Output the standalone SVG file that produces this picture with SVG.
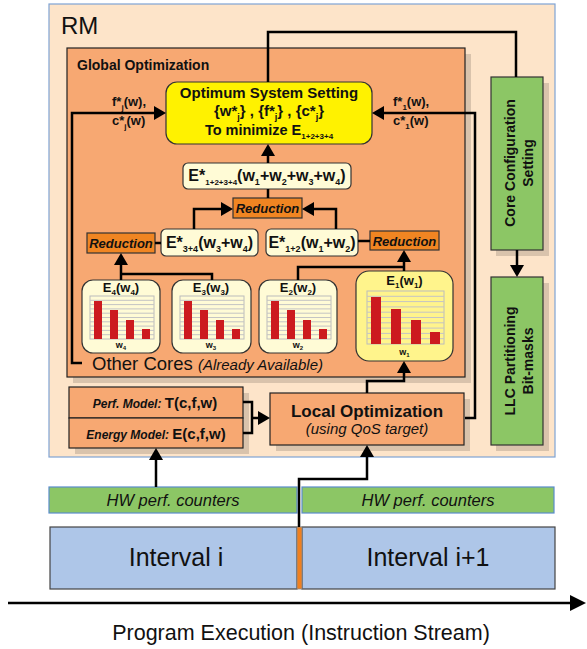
<svg xmlns="http://www.w3.org/2000/svg" width="587" height="649" viewBox="0 0 587 649">
<style>
text{font-family:'Liberation Sans',Arial,sans-serif;fill:#111}
.b{font-weight:bold}
.i{font-style:italic}
.s8{font-size:8px}
.s9{font-size:9px}
.sh{fill:#000;fill-opacity:0.14}
.cream{fill:#fffbd6;stroke:#333;stroke-width:1.2}
.red{fill:#f08522;stroke:#333;stroke-width:1.2}
.grn{fill:#8cc665;stroke:#333;stroke-width:1.2}
.sal{fill:#f7a872;stroke:#222;stroke-width:1.2}
.grid{stroke:#c4c4c4;stroke-width:1}
.bar{fill:#cc1a1f}
.con{fill:none;stroke:#000;stroke-width:2.5}
</style>
<defs>
<marker id="ah" viewBox="0 0 12 14" refX="9" refY="7" markerWidth="12" markerHeight="14" markerUnits="userSpaceOnUse" orient="auto"><path d="M0,0 L12,7 L0,14 z" fill="#000"/></marker>
<marker id="big" viewBox="0 0 16 16" refX="12" refY="8" markerWidth="16" markerHeight="16" markerUnits="userSpaceOnUse" orient="auto"><path d="M0,0 L16,8 L0,16 z" fill="#000"/></marker>
<g id="chart">
<rect x="0" y="0" width="64" height="43" fill="none" stroke="#bcbcbc"/>
<path class="grid" d="M0,4.3H64M0,8.6H64M0,12.9H64M0,17.2H64M0,21.5H64M0,25.8H64M0,30.1H64M0,34.4H64M0,38.7H64"/>
<rect class="bar" x="4" y="5" width="8" height="38"/>
<rect class="bar" x="20" y="14" width="8" height="29"/>
<rect class="bar" x="36" y="24" width="8" height="19"/>
<rect class="bar" x="52" y="33" width="8" height="10"/>
</g>
</defs>

<g id="rm">
<rect x="49" y="4" width="506" height="453" fill="#fde4c9" stroke="#7fa3d4" stroke-width="1.2"/>
<text x="61" y="34" font-size="24">RM</text>
</g>

<g id="global-opt">
<rect class="sh" x="73" y="54" width="398" height="329"/>
<rect class="sal" x="67" y="48" width="398" height="329"/>
<text x="77" y="70" font-size="14" class="b">Global Optimization</text>
<text x="92" y="370" font-size="18.5">Other Cores <tspan class="i" font-size="15">(Already Available)</tspan></text>
</g>

<g id="optimum">
<rect x="166" y="82" width="206" height="62" rx="11" fill="#fff200" stroke="#333" stroke-width="1.2"/>
<text x="269" y="98" font-size="15" class="b" text-anchor="middle">Optimum System Setting</text>
<text x="269" y="116" font-size="15" class="b" text-anchor="middle">{w*<tspan class="s9" dy="4">j</tspan><tspan dy="-4">} , {f*</tspan><tspan class="s9" dy="4">j</tspan><tspan dy="-4">} , {c*</tspan><tspan class="s9" dy="4">j</tspan><tspan dy="-4">}</tspan></text>
<text x="269" y="135" font-size="14.5" class="b" text-anchor="middle">To minimize E<tspan class="s8" dy="4">1+2+3+4</tspan></text>
</g>

<g id="labels-left">
<text x="112" y="106" font-size="13" class="b">f*<tspan class="s8" dy="4">j</tspan><tspan dy="-4">(w),</tspan></text>
<text x="112" y="125" font-size="13" class="b">c*<tspan class="s8" dy="4">j</tspan><tspan dy="-4">(w)</tspan></text>
</g>
<g id="labels-right">
<text x="393" y="106" font-size="13" class="b">f*<tspan class="s8" dy="4">1</tspan><tspan dy="-4">(w),</tspan></text>
<text x="393" y="125" font-size="13" class="b">c*<tspan class="s8" dy="4">1</tspan><tspan dy="-4">(w)</tspan></text>
</g>

<g id="e-total">
<rect class="cream" x="183" y="163" width="168" height="26" rx="5"/>
<text x="267" y="181" font-size="16" class="b" text-anchor="middle">E*<tspan class="s8" dy="4">1+2+3+4</tspan><tspan dy="-4">(w</tspan><tspan class="s9" dy="4">1</tspan><tspan dy="-4">+w</tspan><tspan class="s9" dy="4">2</tspan><tspan dy="-4">+w</tspan><tspan class="s9" dy="4">3</tspan><tspan dy="-4">+w</tspan><tspan class="s9" dy="4">4</tspan><tspan dy="-4">)</tspan></text>
</g>

<g id="reduction-mid">
<rect class="red" x="233" y="198" width="69" height="20"/>
<text x="267.5" y="213" font-size="13" class="b i" text-anchor="middle">Reduction</text>
</g>

<g id="e34">
<rect class="cream" x="161" y="229" width="97" height="27" rx="5"/>
<text x="209.5" y="248" font-size="16" class="b" text-anchor="middle">E*<tspan class="s9" dy="4">3+4</tspan><tspan dy="-4">(w</tspan><tspan class="s9" dy="4">3</tspan><tspan dy="-4">+w</tspan><tspan class="s9" dy="4">4</tspan><tspan dy="-4">)</tspan></text>
</g>

<g id="e12">
<rect class="cream" x="266" y="229" width="92" height="27" rx="5"/>
<text x="312" y="248" font-size="16" class="b" text-anchor="middle">E*<tspan class="s9" dy="4">1+2</tspan><tspan dy="-4">(w</tspan><tspan class="s9" dy="4">1</tspan><tspan dy="-4">+w</tspan><tspan class="s9" dy="4">2</tspan><tspan dy="-4">)</tspan></text>
</g>

<g id="reduction-left">
<rect class="red" x="87" y="233" width="68" height="20"/>
<text x="121" y="248" font-size="13" class="b i" text-anchor="middle">Reduction</text>
</g>

<g id="reduction-right">
<rect class="red" x="370" y="231" width="69" height="19"/>
<text x="404.5" y="245.5" font-size="13" class="b i" text-anchor="middle">Reduction</text>
</g>

<g id="e4">
<rect class="cream" x="82" y="280" width="78" height="73" rx="11"/>
<text x="121" y="292" font-size="13" class="b" text-anchor="middle">E<tspan class="s8" dy="3">4</tspan><tspan dy="-3">(w</tspan><tspan class="s8" dy="3">4</tspan><tspan dy="-3">)</tspan></text>
<use href="#chart" x="90" y="296"/>
<text x="121" y="348" font-size="9" class="b" text-anchor="middle">w<tspan font-size="6" dy="2">4</tspan></text>
</g>

<g id="e3">
<rect class="cream" x="172" y="280" width="79" height="73" rx="11"/>
<text x="211" y="292" font-size="13" class="b" text-anchor="middle">E<tspan class="s8" dy="3">3</tspan><tspan dy="-3">(w</tspan><tspan class="s8" dy="3">3</tspan><tspan dy="-3">)</tspan></text>
<use href="#chart" x="180" y="296"/>
<text x="211" y="348" font-size="9" class="b" text-anchor="middle">w<tspan font-size="6" dy="2">3</tspan></text>
</g>

<g id="e2">
<rect class="cream" x="259" y="280" width="78" height="73" rx="11"/>
<text x="298" y="292" font-size="13" class="b" text-anchor="middle">E<tspan class="s8" dy="3">2</tspan><tspan dy="-3">(w</tspan><tspan class="s8" dy="3">2</tspan><tspan dy="-3">)</tspan></text>
<use href="#chart" x="267" y="296"/>
<text x="298" y="348" font-size="9" class="b" text-anchor="middle">w<tspan font-size="6" dy="2">2</tspan></text>
</g>

<g id="e1">
<rect x="356" y="271" width="97" height="90" rx="13" fill="#fff48c" stroke="#333" stroke-width="1.2"/>
<text x="404.5" y="285" font-size="13" class="b" text-anchor="middle">E<tspan class="s8" dy="3">1</tspan><tspan dy="-3">(w</tspan><tspan class="s8" dy="3">1</tspan><tspan dy="-3">)</tspan></text>
<rect x="367" y="291" width="77" height="53" fill="none" stroke="#bcbcbc"/>
<path class="grid" d="M367,296.3H444M367,301.6H444M367,306.9H444M367,312.2H444M367,317.5H444M367,322.8H444M367,328.1H444M367,333.4H444M367,338.7H444"/>
<rect class="bar" x="371" y="297" width="10" height="47"/>
<rect class="bar" x="391" y="309" width="10" height="35"/>
<rect class="bar" x="411" y="320" width="10" height="24"/>
<rect class="bar" x="430" y="332" width="10" height="12"/>
<text x="404.5" y="355" font-size="9" class="b" text-anchor="middle">w<tspan font-size="6" dy="2">1</tspan></text>
</g>

<g id="core-config">
<rect class="sh" x="496" y="83" width="53" height="173"/>
<rect class="grn" x="491" y="77" width="52" height="173"/>
<g transform="translate(517,163) rotate(-90)">
<text x="0" y="-2" font-size="14" class="b" text-anchor="middle">Core Configuration</text>
<text x="0" y="16" font-size="14" class="b" text-anchor="middle">Setting</text>
</g>
</g>

<g id="llc">
<rect class="sh" x="496" y="283" width="53" height="168"/>
<rect class="grn" x="491" y="277" width="52" height="168"/>
<g transform="translate(517,361) rotate(-90)">
<text x="0" y="-2" font-size="14" class="b" text-anchor="middle">LLC Partitioning</text>
<text x="0" y="16" font-size="14" class="b" text-anchor="middle">Bit-masks</text>
</g>
</g>

<g id="models">
<rect class="sh" x="75" y="393" width="174" height="61"/>
<rect class="sal" x="69" y="387" width="174" height="31"/>
<rect class="sal" x="69" y="418" width="174" height="30"/>
<text x="155" y="408" text-anchor="middle"><tspan class="b i" font-size="12">Perf. Model: </tspan><tspan class="b" font-size="15">T(c,f,w)</tspan></text>
<text x="156" y="439" text-anchor="middle"><tspan class="b i" font-size="12">Energy Model: </tspan><tspan class="b" font-size="15">E(c,f,w)</tspan></text>
</g>

<g id="local-opt">
<rect class="sh" x="276" y="399" width="194" height="52"/>
<rect class="sal" x="270" y="393" width="194" height="52"/>
<text x="367" y="417" font-size="17" class="b" text-anchor="middle">Local Optimization</text>
<text x="367" y="434" font-size="15" class="i" text-anchor="middle">(using QoS target)</text>
</g>

<g id="hw-counters">
<rect x="49" y="487" width="248" height="26" fill="#8cc665" stroke="#5a8ccc" stroke-width="1.2"/>
<rect x="302" y="487" width="252" height="26" fill="#8cc665" stroke="#5a8ccc" stroke-width="1.2"/>
<text x="173" y="506" font-size="16.5" class="i" text-anchor="middle">HW perf. counters</text>
<text x="428" y="506" font-size="16.5" class="i" text-anchor="middle">HW perf. counters</text>
</g>

<g id="intervals">
<rect x="50" y="527" width="247" height="62" fill="#aec6e8" stroke="#444" stroke-width="1.2"/>
<rect x="302" y="527" width="253" height="62" fill="#aec6e8" stroke="#444" stroke-width="1.2"/>
<rect x="297" y="527" width="5" height="62" fill="#f08020" stroke="#888" stroke-width="0.8"/>
<text x="176" y="566" font-size="25" text-anchor="middle">Interval i</text>
<text x="428" y="566" font-size="25" text-anchor="middle">Interval i+1</text>
</g>

<g id="timeline">
<text x="301" y="640" font-size="21.5" text-anchor="middle">Program Execution (Instruction Stream)</text>
</g>

<g id="connectors">
<path class="con" d="M82,363 H72 V113 H163" marker-end="url(#ah)"/>
<path class="con" d="M465,418 H475 V113 H375" marker-end="url(#ah)"/>
<path class="con" d="M268,82 V32 H516 V77"/>
<path class="con" d="M517,250 V274" marker-end="url(#ah)"/>
<path class="con" d="M268,163 V147" marker-end="url(#ah)"/>
<path class="con" d="M268,198 V189"/>
<path class="con" d="M194,229 V209 H230" marker-end="url(#ah)"/>
<path class="con" d="M336,229 V209 H305" marker-end="url(#ah)"/>
<path class="con" d="M155,243 H161"/>
<path class="con" d="M358,241 H370"/>
<path class="con" d="M212,280 V274 H121"/>
<path class="con" d="M121,280 V256" marker-end="url(#ah)"/>
<path class="con" d="M298,280 V267 H404"/>
<path class="con" d="M404,271 V253" marker-end="url(#ah)"/>
<path class="con" d="M367,393 V381 H404 V364" marker-end="url(#ah)"/>
<path class="con" d="M243,402 H252 V433 H243"/>
<path class="con" d="M252,418 H267" marker-end="url(#ah)"/>
<path class="con" d="M156,487 V451" marker-end="url(#ah)"/>
<path class="con" stroke-width="3.5" d="M299,527 V479 H367 V448" marker-end="url(#ah)"/>
<path class="con" stroke-width="3" d="M8,603 H582" marker-end="url(#big)"/>
</g>
</svg>
